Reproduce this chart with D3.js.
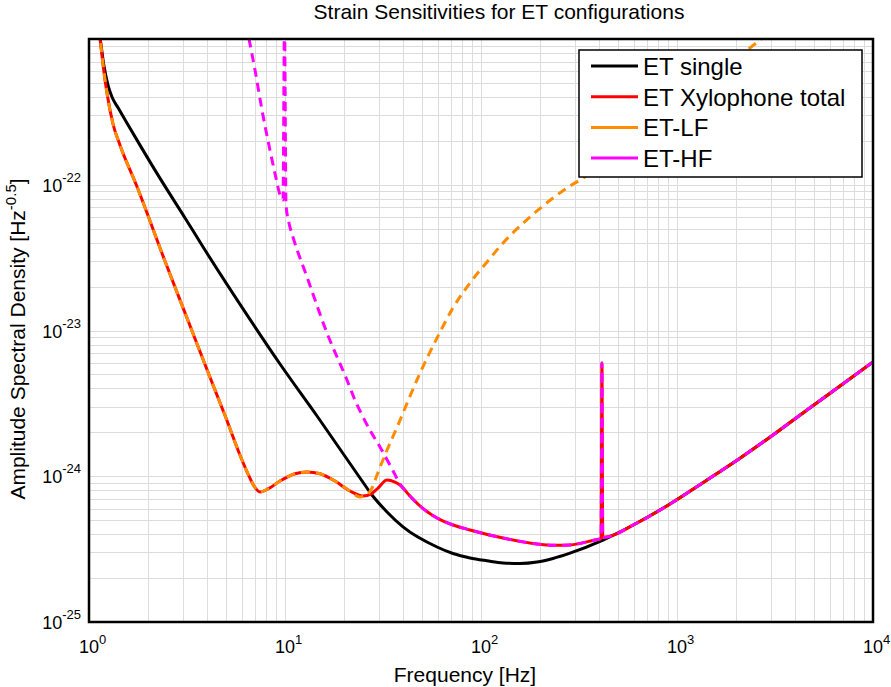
<!DOCTYPE html>
<html>
<head>
<meta charset="utf-8">
<script src="https://cdnjs.cloudflare.com/ajax/libs/d3/7.8.5/d3.min.js"></script>
<style>
body{margin:0;background:#fff;}
text{font-family:"Liberation Sans",Arial,Helvetica,sans-serif;fill:#000;}
</style>
</head>
<body>
<div id="chartDiv"></div>
<script>
// values: frequency [Hz] and ASD [Hz^-0.5]
const freqSingle = [1.10, 1.14, 1.19, 1.25, 1.31, 1.41, 1.54, 1.82, 2.30, 3.09, 3.82, 6.55, 9.43, 14.57, 24.14, 27.79, 33.15, 40.0, 59.65, 71.96, 87.86, 107.3, 129.5, 158.1, 193.1, 232.9, 284.5, 419.2, 625, 921, 1423, 2096, 3089, 4606, 6786, 10000];
const asdSingle = [1.3e-21, 1.0e-21, 6.63e-22, 4.83e-22, 4.00e-22, 3.36e-22, 2.74e-22, 1.87e-22, 1.11e-22, 5.92e-23, 3.74e-23, 1.22e-23, 5.89e-24, 2.59e-24, 9.73e-25, 7.44e-25, 5.69e-25, 4.49e-25, 3.27e-25, 2.95e-25, 2.75e-25, 2.63e-25, 2.54e-25, 2.52e-25, 2.58e-25, 2.73e-25, 2.97e-25, 3.65e-25, 4.78e-25, 6.45e-25, 9.42e-25, 1.33e-24, 1.92e-24, 2.85e-24, 4.16e-24, 6.08e-24];

// low band, where total and LF lie on top of each other
const freqLow = [1.10, 1.14, 1.18, 1.24, 1.33, 1.44, 1.76, 2.44, 3.24, 4.10, 5.00, 5.89, 6.47, 6.95, 7.46, 8.19, 9.43, 11.25, 12.95, 15.09, 17.99, 21.46];
const asdLow = [1.5e-21, 1.0e-21, 6.63e-22, 4.13e-22, 2.57e-22, 1.87e-22, 9.66e-23, 3.00e-23, 1.12e-23, 4.95e-24, 2.51e-24, 1.40e-24, 1.04e-24, 8.57e-25, 7.80e-25, 8.18e-25, 9.27e-25, 1.04e-24, 1.07e-24, 1.04e-24, 9.27e-25, 7.92e-25];

// crossover band of the total
const freqMid = [25.0, 27.47, 29.82, 33.15, 36.4, 38.62];
const asdMid = [7.32e-25, 7.55e-25, 8.30e-25, 9.42e-25, 9.12e-25, 8.71e-25];

// high band, where total and HF lie on top of each other
const freqHigh = [43.4, 48.86, 59.65, 71.96, 87.86, 129.5, 193.1, 232.9, 284.5, 404.7, 410, 414, 418, 625, 921, 1423, 2096, 3089, 4606, 6786, 10000];
const asdHigh = [7.32e-25, 6.25e-25, 5.17e-25, 4.63e-25, 4.28e-25, 3.77e-25, 3.43e-25, 3.36e-25, 3.38e-25, 3.71e-25, 3.72e-25, 5.98e-24, 3.80e-25, 4.78e-25, 6.45e-25, 9.42e-25, 1.33e-24, 1.92e-24, 2.85e-24, 4.16e-24, 6.08e-24];

// LF above its minimum
const freqLFRise = [24.14, 26.21, 27.79, 29.47, 33.15, 37.72, 40.0, 48.86, 59.65, 71.96, 87.86, 107.3, 129.5, 158.1, 193.1, 232.9, 284.5, 331.5, 512, 1036, 2651, 3354];
const asdLFRise = [7.21e-25, 7.44e-25, 8.30e-25, 1.02e-24, 1.51e-24, 2.25e-24, 2.72e-24, 5.11e-24, 8.89e-24, 1.43e-23, 2.12e-23, 2.95e-23, 3.98e-23, 5.21e-23, 6.61e-23, 8.11e-23, 9.80e-23, 1.11e-22, 1.76e-22, 3.70e-22, 9.85e-22, 1.27e-21];

// HF below the crossover
const freqHFFall = [6.32, 6.55, 7.03, 7.63, 8.38, 9.00, 9.43, 9.77, 9.94, 10.12, 10.48, 10.98, 12.95, 16.38, 20.72, 22.76, 25.0, 27.47, 30.52, 35.56, 38.62];
const asdHFFall = [1.27e-21, 1.0e-21, 6.12e-22, 3.26e-22, 1.73e-22, 1.11e-22, 8.51e-23, 7.86e-23, 1.27e-21, 7.26e-23, 5.47e-23, 4.38e-23, 2.33e-23, 9.61e-24, 4.57e-24, 3.33e-24, 2.55e-24, 2.01e-24, 1.59e-24, 1.09e-24, 8.85e-25];

const seriesNames = ["ET single", "ET Xylophone total", "ET-LF", "ET-HF"];
const seriesColors = ["#000000", "#ff0000", "#ff8c00", "#ff00ff"];
const xDecades = [0, 1, 2, 3, 4];
const yDecades = [-25, -24, -23, -22];

const W = 891, H = 687;
const plot = {left: 89, right: 873, top: 39, bottom: 622};

function zip(fs, vs){ return fs.map((f, i) => ({f: f, v: vs[i]})); }

const svg = d3.select("#chartDiv").append("svg")
	.attr("width", W)
	.attr("height", H);

const x = d3.scaleLog().domain([1, 1e4]).range([plot.left, plot.right]);
const y = d3.scaleLog().domain([1e-25, 1e-21]).range([plot.bottom, plot.top]);

svg.append("clipPath").attr("id", "plotClip")
	.append("rect")
	.attr("x", plot.left).attr("y", plot.top)
	.attr("width", plot.right - plot.left).attr("height", plot.bottom - plot.top);

// grid, every 1..9 x 10^k on both axes
const gridG = svg.append("g").attr("stroke", "#dcdcdc").attr("stroke-width", 1);
gridG.selectAll("line.gx").data(x.ticks()).enter().append("line")
	.attr("x1", d => Math.round(x(d)) + 0.5).attr("x2", d => Math.round(x(d)) + 0.5)
	.attr("y1", plot.top).attr("y2", plot.bottom);
gridG.selectAll("line.gy").data(y.ticks()).enter().append("line")
	.attr("y1", d => Math.round(y(d)) + 0.5).attr("y2", d => Math.round(y(d)) + 0.5)
	.attr("x1", plot.left).attr("x2", plot.right);

// curves
const line = d3.line()
	.x(d => x(d.f))
	.y(d => y(d.v))
	.curve(d3.curveMonotoneX);

const curves = [
	{data: zip(freqSingle, asdSingle), color: seriesColors[0], dash: null},
	{data: zip(freqLow.concat(freqMid, freqHigh), asdLow.concat(asdMid, asdHigh)), color: seriesColors[1], dash: null},
	{data: zip(freqLow.concat(freqLFRise), asdLow.concat(asdLFRise)), color: seriesColors[2], dash: "9,6"},
	{data: zip(freqHFFall.concat(freqHigh), asdHFFall.concat(asdHigh)), color: seriesColors[3], dash: "9,6"}
];

const curveG = svg.append("g").attr("clip-path", "url(#plotClip)");
curveG.selectAll("path").data(curves).enter().append("path")
	.attr("d", d => line(d.data))
	.attr("fill", "none")
	.attr("stroke", d => d.color)
	.attr("stroke-width", 3)
	.attr("stroke-linejoin", "round")
	.attr("stroke-dasharray", d => d.dash);

// frame
svg.append("rect")
	.attr("x", plot.left).attr("y", plot.top)
	.attr("width", plot.right - plot.left).attr("height", plot.bottom - plot.top)
	.attr("fill", "none").attr("stroke", "#000").attr("stroke-width", 2.5);

// tick labels 10^k
const xLab = svg.append("g").selectAll("text").data(xDecades).enter().append("text")
	.attr("x", d => x(Math.pow(10, d)) - 10)
	.attr("y", 653)
	.style("font-size", "18px");
xLab.append("tspan").text("10");
xLab.append("tspan").attr("dy", -9).style("font-size", "13px").text(d => d);

const yLab = svg.append("g").selectAll("text").data(yDecades).enter().append("text")
	.attr("x", 81)
	.attr("y", d => y(Math.pow(10, d)) + 7)
	.attr("text-anchor", "end")
	.style("font-size", "18px");
yLab.append("tspan").text("10");
yLab.append("tspan").attr("dy", -10).style("font-size", "13px").text(d => d);

// titles
svg.append("text")
	.attr("x", 499).attr("y", 19)
	.attr("text-anchor", "middle")
	.style("font-size", "21px")
	.text("Strain Sensitivities for ET configurations");

svg.append("text")
	.attr("x", 465).attr("y", 682)
	.attr("text-anchor", "middle")
	.style("font-size", "21px")
	.text("Frequency [Hz]");

const yTitle = svg.append("text")
	.attr("transform", "translate(25,339) rotate(-90)")
	.attr("text-anchor", "middle")
	.style("font-size", "21px");
yTitle.append("tspan").text("Amplitude Spectral Density [Hz");
yTitle.append("tspan").attr("dy", -9).style("font-size", "15px").text("-0.5");
yTitle.append("tspan").attr("dy", 9).text("]");

// legend
const legG = svg.append("g").attr("transform", "translate(579,50)");
legG.append("rect")
	.attr("width", 283).attr("height", 127)
	.attr("fill", "#fff").attr("stroke", "#000").attr("stroke-width", 1.5);
const legRow = legG.selectAll("g.row").data(seriesNames).enter().append("g")
	.attr("transform", (d, i) => `translate(0, ${16 + i * 30.7})`);
legRow.append("line")
	.attr("x1", 12).attr("x2", 59)
	.attr("stroke", (d, i) => seriesColors[i])
	.attr("stroke-width", 3);
legRow.append("text")
	.attr("x", 64).attr("y", 9)
	.style("font-size", "24px")
	.text(d => d);
</script>
</body>
</html>
